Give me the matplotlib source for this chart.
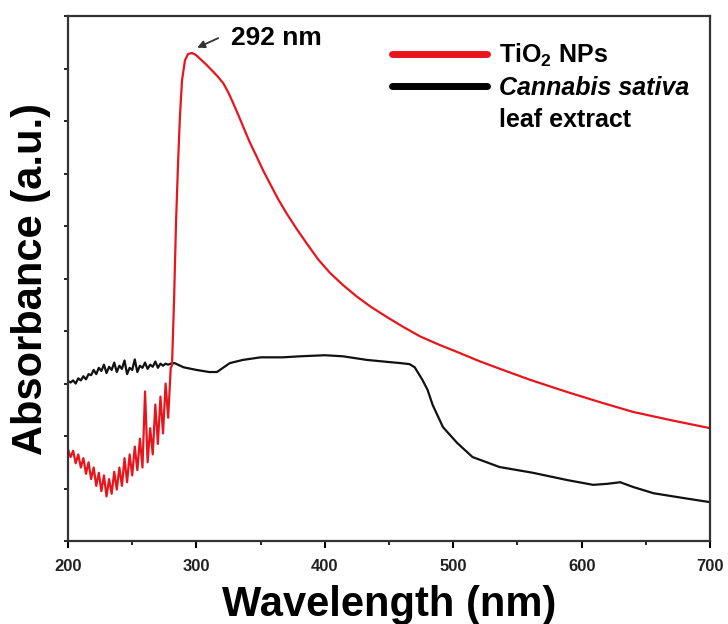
"""
UV-Vis absorbance of TiO2 NPs and Cannabis sativa leaf extract
"""

import numpy as np
import matplotlib
matplotlib.use('Agg')
import matplotlib.pyplot as plt
from matplotlib.lines import Line2D
from matplotlib.ticker import MultipleLocator

plt.rcParams['font.family'] = ['Liberation Sans', 'DejaVu Sans']
plt.rcParams['font.weight'] = 'bold'
plt.rcParams['mathtext.fontset'] = 'custom'
plt.rcParams['mathtext.rm'] = 'Liberation Sans:bold'
plt.rcParams['mathtext.it'] = 'Liberation Sans:italic:bold'
plt.rcParams['mathtext.default'] = 'rm'

# --- TiO2 NPs (red) ---
red_x = [200, 202, 204, 206, 208, 210, 212, 214, 216, 218, 220, 222, 224, 226,
         228, 230, 232, 234, 236, 238, 240, 242, 244, 246, 248, 250, 252, 254,
         256, 258, 260, 262, 264, 266, 268, 270, 272, 274, 276, 278, 280,
         281, 282.6, 284.1, 285.7, 287.2, 288.8, 291.1, 293.5, 296.6, 299.7,
         302.8, 308, 313.2, 317, 321, 324.8, 328.7, 332.6, 336.5, 341.5, 347,
         352, 357.3, 363.5, 370.3, 378, 385.9, 395, 404, 414, 424.8, 436,
         448.2, 461, 474.1, 489, 505.3, 520, 536.4, 560, 588.6, 615, 640, 670,
         700]
red_y = [0.175, 0.160, 0.172, 0.148, 0.165, 0.140, 0.158, 0.128, 0.150, 0.118,
         0.140, 0.105, 0.130, 0.095, 0.125, 0.085, 0.118, 0.090, 0.132, 0.098,
         0.140, 0.105, 0.158, 0.112, 0.165, 0.125, 0.180, 0.135, 0.195, 0.140,
         0.285, 0.150, 0.215, 0.165, 0.260, 0.185, 0.275, 0.205, 0.300, 0.235,
         0.330,
         0.335, 0.460, 0.605, 0.720, 0.811, 0.878, 0.916, 0.928, 0.930, 0.926,
         0.919, 0.907, 0.894, 0.884, 0.872, 0.855, 0.834, 0.812, 0.789, 0.760,
         0.732, 0.706, 0.681, 0.652, 0.624, 0.595, 0.567, 0.536, 0.511, 0.488,
         0.466, 0.446, 0.427, 0.408, 0.390, 0.374, 0.358, 0.343, 0.328, 0.307,
         0.284, 0.264, 0.246, 0.230, 0.215]

# --- Cannabis sativa leaf extract (black) ---
blk_x = [200, 202, 204, 206, 208, 210, 212, 214, 216, 218, 220, 222, 224, 226,
         228, 230, 232, 234, 236, 238, 240, 242, 244, 246, 248, 250, 252, 254,
         256, 258, 260, 262, 264, 266, 268, 270, 272, 274, 276, 278, 280,
         283, 290, 300, 310, 316, 326, 336, 350, 367, 381, 400, 414, 433, 450,
         459, 466, 470, 476, 480, 484, 492, 503, 515, 536, 562, 589, 609, 620,
         630, 640, 656, 679, 700]
blk_y = [0.305, 0.302, 0.306, 0.300, 0.310, 0.306, 0.314, 0.308, 0.318, 0.316,
         0.326, 0.318, 0.330, 0.324, 0.336, 0.320, 0.332, 0.326, 0.340, 0.322,
         0.334, 0.328, 0.344, 0.318, 0.330, 0.326, 0.346, 0.322, 0.334, 0.330,
         0.340, 0.328, 0.336, 0.332, 0.342, 0.330, 0.338, 0.334, 0.338, 0.336,
         0.338,
         0.339, 0.331, 0.326, 0.322, 0.322, 0.339, 0.345, 0.350, 0.350, 0.352,
         0.354, 0.352, 0.345, 0.341, 0.339, 0.337, 0.331, 0.307, 0.288, 0.259,
         0.217, 0.187, 0.160, 0.141, 0.130, 0.116, 0.107, 0.109, 0.112, 0.103,
         0.091, 0.082, 0.074]

red_color = '#e8161c'

fig = plt.figure(figsize=(7.28, 6.24), dpi=100)
ax = fig.add_axes([0.0934, 0.133, 0.882, 0.841])

ax.plot(blk_x, blk_y, color='#111111', linewidth=1.6)
ax.plot(red_x, red_y, color=red_color, linewidth=1.6)

ax.set_xlim(200, 700)
ax.set_ylim(0, 1.0)
ax.xaxis.set_major_locator(MultipleLocator(100))
ax.xaxis.set_minor_locator(MultipleLocator(50))
ax.yaxis.set_major_locator(MultipleLocator(0.1))
ax.set_yticklabels([])
ax.tick_params(axis='x', which='major', direction='out', length=5, width=1.5,
               labelsize=12, pad=8, labelcolor='#222222')
ax.tick_params(axis='x', which='minor', direction='out', length=3, width=1.2)
ax.tick_params(axis='y', which='major', direction='out', length=3, width=1.2)
for s in ax.spines.values():
    s.set_linewidth(1.6)
    s.set_color('#333333')

ax.set_xlabel('Wavelength (nm)', fontsize=30, fontweight='bold', labelpad=8)
ax.set_ylabel('Absorbance (a.u.)', fontsize=30, fontweight='bold', labelpad=6)

# peak annotation
i_peak = int(np.argmax(red_y))
ax.annotate('292 nm', xy=(red_x[i_peak] + 4, red_y[i_peak] + 0.01),
            xytext=(327, 0.958), fontsize=19, fontweight='bold',
            ha='left', va='center',
            arrowprops=dict(arrowstyle='-|>', color='#333333', lw=1.3,
                            mutation_scale=11, shrinkA=8, shrinkB=0,
                            relpos=(0, 0.75)))

handles = [Line2D([], [], color=red_color, linewidth=5, solid_capstyle='round'),
           Line2D([], [], color='black', linewidth=5, solid_capstyle='round'),
           Line2D([], [], color='none')]
labels = ['TiO$_2$ NPs', 'Cannabis sativa', 'leaf extract']
leg = ax.legend(handles, labels, loc='upper left', bbox_to_anchor=(0.47, 0.995),
                frameon=False, handlelength=3.8, handletextpad=0.45,
                labelspacing=0.3, prop={'size': 18, 'weight': 'bold'})
leg.get_texts()[1].set_style('italic')

plt.savefig('out.png', dpi=100)
plt.close()
